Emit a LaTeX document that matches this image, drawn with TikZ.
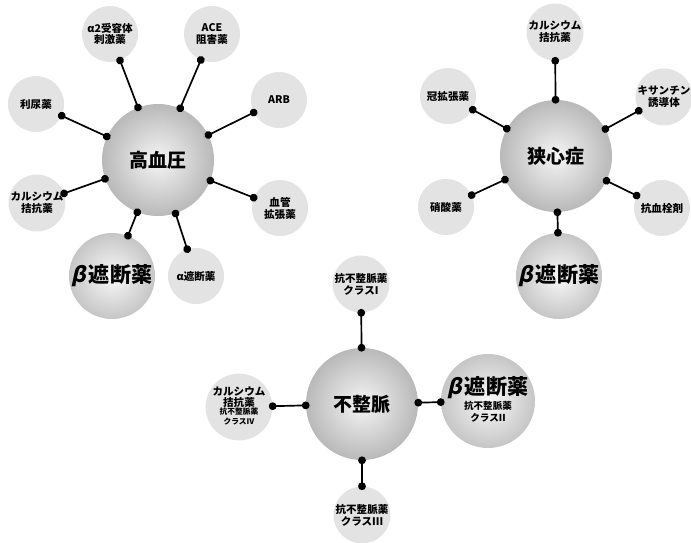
\documentclass[tikz,border=0pt]{standalone}
\usepackage{fontspec}
\newfontfamily\jp{Noto Sans CJK JP}
\newfontfamily\jpsl[FakeSlant=0.22]{Noto Sans CJK JP}
\newcommand{\betachar}{{\jpsl β}\hspace{0.12em}}
\newcommand{\subtext}[3]{{\fontsize{#1}{#2}\selectfont\begin{tabular}{@{}c@{}}#3\end{tabular}}}
\usetikzlibrary{arrows.meta}

\begin{document}
\begin{tikzpicture}[x=0.025cm, y=-0.025cm,
  hub/.style={circle,minimum size=2.8cm,inner sep=0pt,shading=radial,inner color=gray!8,outer color=gray!55,font={\jp\bfseries\fontsize{13.5}{15}\selectfont}},
  sat/.style={circle,minimum size=1.4cm,inner sep=0pt,fill=gray!22,align=center,font={\jp\bfseries\fontsize{7.5}{8.5}\selectfont}},
  bnode/.style={circle,minimum size=2.15cm,inner sep=0pt,shading=radial,inner color=gray!5,outer color=gray!45,align=center,font={\jp\bfseries\fontsize{15}{17}\selectfont}},
  conn/.style={line width=1.2pt,{Circle[length=5.5pt]}-{Circle[length=5.5pt]},shorten <=-2.75pt,shorten >=-2.75pt}]

\useasboundingbox (0,0) rectangle (691,542);

% hypertension
\node[hub] (hbp) at (158,160) {高血圧};
\node[sat] (hbp-a2) at (110,34) {α2受容体\\刺激薬};
\node[sat] (hbp-ace) at (212,34) {ACE\\阻害薬};
\node[sat] (hbp-diu) at (36,104) {利尿薬};
\node[sat] (hbp-arb) at (279,100) {ARB};
\node[sat] (hbp-vaso) at (280,208) {血管\\拡張薬};
\node[sat] (hbp-alpha) at (196,276) {α遮断薬};
\node[sat] (hbp-ca) at (37,203) {カルシウム\\拮抗薬};
\node[bnode] (hbp-beta) at (112,276) {\betachar 遮断薬};

\foreach \s in {a2,ace,diu,arb,vaso,alpha,ca,beta}
  \draw[conn] (hbp) -- (hbp-\s);

% angina
\node[hub] (ang) at (556,156) {狭心症};
\node[sat] (ang-ca) at (555,32) {カルシウム\\拮抗薬};
\node[sat] (ang-cor) at (448,96) {冠拡張薬};
\node[sat] (ang-xan) at (664,97) {キサンチン\\誘導体};
\node[sat] (ang-nit) at (446,207) {硝酸薬};
\node[sat] (ang-thr) at (662,208) {抗血栓剤};
\node[bnode] (ang-beta) at (559,276) {\betachar 遮断薬};

\foreach \s in {ca,cor,xan,nit,thr,beta}
  \draw[conn] (ang) -- (ang-\s);

% arrhythmia
\node[hub] (arr) at (362,404) {不整脈};
\node[sat] (arr-c1) at (361,284) {抗不整脈薬\\クラスI};
\node[sat] (arr-c4) at (239,407) {カルシウム\\拮抗薬\\[-1pt]\subtext{5.5}{7}{抗不整脈薬\\クラスIV}};
\node[bnode] (arr-c2) at (488,401) {\betachar 遮断薬\\[-2pt]\subtext{6.8}{8.5}{抗不整脈薬\\クラスII}};
\node[sat] (arr-c3) at (362,515) {抗不整脈薬\\クラスIII};

\foreach \s in {c1,c4,c2,c3}
  \draw[conn] (arr) -- (arr-\s);

\end{tikzpicture}
\end{document}
